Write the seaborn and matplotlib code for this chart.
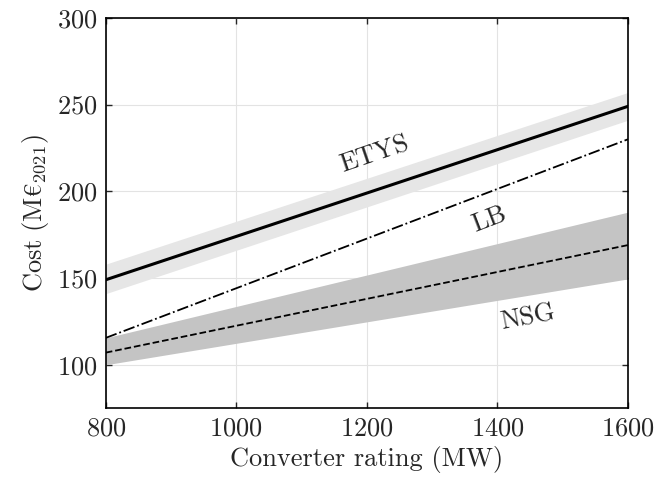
import numpy as np
import pandas as pd
import matplotlib
matplotlib.use("Agg")
import matplotlib.pyplot as plt
import seaborn as sns

rating = [800, 1600]
etys = [149, 249]
etys_lo = [141, 241]
etys_hi = [158, 257]
lb = [115.5, 230]
nsg = [107, 169]
nsg_lo = [100, 149.5]
nsg_hi = [115.5, 188]

sns.set_theme(style="ticks")
plt.rcParams["font.family"] = ["cmr10", "DejaVu Serif"]
plt.rcParams["mathtext.fontset"] = "cm"
plt.rcParams["axes.unicode_minus"] = False
plt.rcParams["axes.formatter.use_mathtext"] = True

fig, ax = plt.subplots(figsize=(6.61, 4.83), dpi=100)

ax.fill_between(rating, etys_lo, etys_hi, color="#e6e6e6", lw=0, zorder=1)
ax.fill_between(rating, nsg_lo, nsg_hi, color="#c4c4c4", lw=0, zorder=1)

df = pd.DataFrame({"x": rating, "ETYS": etys, "LB": lb, "NSG": nsg})
sns.lineplot(data=df, x="x", y="ETYS", ax=ax, color="black", lw=2.2, zorder=3)
sns.lineplot(data=df, x="x", y="LB", ax=ax, color="black", lw=1.3, ls="-.", zorder=3)
sns.lineplot(data=df, x="x", y="NSG", ax=ax, color="black", lw=1.3, ls="--", zorder=3)

fs = 19
ax.text(1212, 221, "ETYS", rotation=19, ha="center", va="center", fontsize=fs)
ax.text(1388, 184, "LB", rotation=21, ha="center", va="center", fontsize=fs)
ax.text(1447, 127.5, "NSG", rotation=11, ha="center", va="center", fontsize=fs)

ax.set_xlim(800, 1600)
ax.set_ylim(75, 300)
ax.set_xticks([800, 1000, 1200, 1400, 1600])
ax.set_yticks([100, 150, 200, 250, 300])
ax.grid(True, color="#e3e3e3", lw=0.8, zorder=0)
ax.set_axisbelow(True)
ax.tick_params(direction="in", top=True, right=True, labelsize=fs, length=4, width=1, pad=6)
for s in ax.spines.values():
    s.set_linewidth(1.2)
    s.set_color("black")
ax.set_xlabel("Converter rating (MW)", fontsize=fs)
ax.set_ylabel(r"$\mathrm{Cost\ (M€_{2021})}$", fontsize=fs)

fig.subplots_adjust(left=0.16, right=0.95, top=0.963, bottom=0.155)
fig.savefig("out.png", dpi=100)
